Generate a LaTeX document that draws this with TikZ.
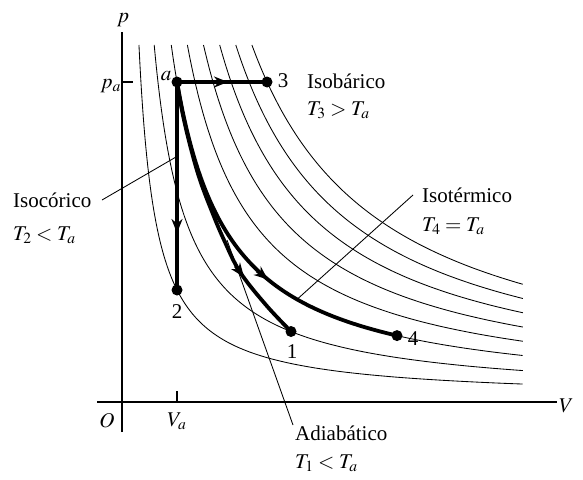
\documentclass[tikz,border=0pt]{standalone}
\usepackage{mathptmx}
\usepackage{fontspec}
\setmainfont{Liberation Serif}
\usetikzlibrary{arrows.meta,calc}
\begin{document}
\begin{tikzpicture}[x=1pt,y=-1pt,
  thinc/.style={line width=0.85pt},
  heavy/.style={line width=3.8pt},
  axisline/.style={line width=1.1pt},
  dot/.style={circle,fill,inner sep=0pt,minimum size=11pt},
  lbl/.style={inner sep=0pt,font=\fontsize{21}{25}\selectfont},
  ahead/.style={line width=3.8pt,-{Stealth[length=14pt,width=11pt,inset=4.5pt]}}]
\useasboundingbox (0,0) rectangle (583,479);
% axes
\coordinate (ytop) at (122,32);
\coordinate (ybot) at (122,432);
\coordinate (xl) at (97,402);
\coordinate (xr) at (557,402);
\coordinate (patick0) at (122,82);
\coordinate (patick1) at (133,82);
\coordinate (vatick0) at (177,402);
\coordinate (vatick1) at (177,391);
\draw[axisline] (ybot) -- (ytop);
\draw[axisline] (xl) -- (xr);
\draw[axisline] (patick0) -- (patick1);
\draw[axisline] (vatick0) -- (vatick1);
\node[lbl,anchor=base] (plab) at (123,22) {$p$};
\node[lbl,anchor=base east] (palab) at (121,88) {$p_a$};
\node[lbl,anchor=base] (olab) at (107,427) {$O$};
\node[lbl,anchor=base] (valab) at (177,426) {$V_a$};
\node[lbl,anchor=base west] (vlab) at (559,412) {$V$};
% isotherms
\foreach \u in {16.95,32.2,49.25,65.4,81.5,97.7,113.8,129.9}{
  \pgfmathsetmacro\tend{ln(401/\u)}
  \draw[thinc] plot[domain=0:\tend,samples=70,smooth] ({122+\u*exp(\x)},{399-354*exp(-\x)});
}
% state points
\node[dot] (a) at (177,82) {};
\node[dot] (p3) at (267,82) {};
\node[dot] (p2) at (177,290) {};
\node[dot] (p1) at (291,331.5) {};
\node[dot] (p4) at (397,335.6) {};
% processes
\draw[heavy] (a.center) -- (p3.center);
\draw[heavy] (a.center) -- (p2.center);
\draw[heavy] plot[domain=0:1.6094,samples=60,smooth] ({122+55*exp(\x)},{399-317*exp(-\x)});
\draw[heavy] plot[smooth,tension=0.6] coordinates {(177,82) (182.5,113) (190.5,147) (200,180) (212.5,213) (224,240) (240,272) (266,305) (291,331.5)};
% arrow heads
\draw[ahead] (213,82) -- (228,82);
\draw[ahead] (177,218) -- (177,233);
\draw[ahead] ($(244,277)+(-8.4,-11.2)$) -- (244,277);
\draw[ahead] ($(268,279.6)+(-10.8,-8.9)$) -- (268,279.6);
% point labels
\node[lbl,anchor=base] (la) at (166,80) {$a$};
\node[lbl,anchor=base] (l3) at (283,87) {3};
\node[lbl,anchor=base] (l2) at (177,318) {2};
\node[lbl,anchor=base] (l1) at (292,358) {1};
\node[lbl,anchor=base] (l4) at (413,345) {4};
% process labels
\node[lbl,anchor=base west] (tisob) at (307,88) {Isobárico};
\node[lbl,anchor=base west] (tisob2) at (307,115) {$T_3 > T_a$};
\node[lbl,anchor=base west] (tisoc) at (13,207) {Isocórico};
\node[lbl,anchor=base west] (tisoc2) at (13,240) {$T_2 < T_a$};
\node[lbl,anchor=base west] (tisot) at (422,202) {Isotérmico};
\node[lbl,anchor=base west] (tisot2) at (422,231) {$T_4 = T_a$};
\node[lbl,anchor=base west] (tadia) at (295,440) {Adiabático};
\node[lbl,anchor=base west] (tadia2) at (295,468) {$T_1 < T_a$};
% leaders
\coordinate (isocA) at (102,200);
\coordinate (isocB) at (176,157);
\coordinate (isotA) at (413,195);
\coordinate (isotB) at (297,299.4);
\coordinate (adiaA) at (293,425);
\coordinate (adiaB) at (227,240);
\draw[thinc] (isocA) -- (isocB);
\draw[thinc] (isotA) -- (isotB);
\draw[thinc] (adiaA) -- (adiaB);
\end{tikzpicture}
\end{document}
